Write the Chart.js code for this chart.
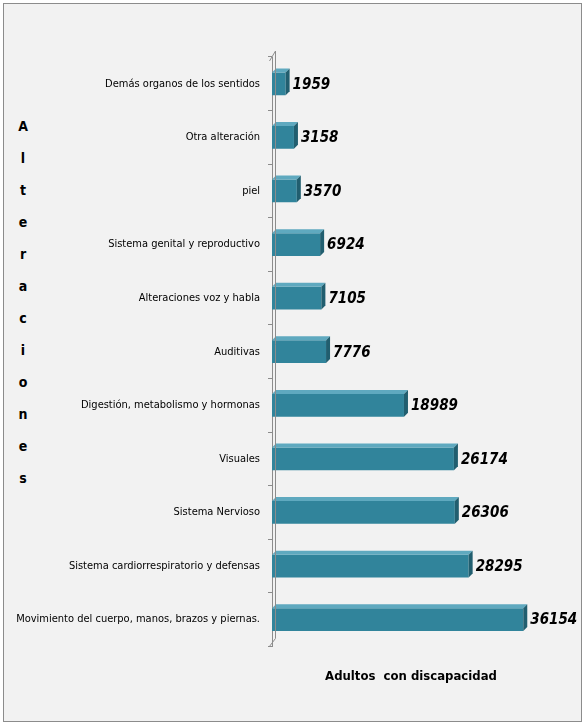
<!DOCTYPE html>
<html>
<head>
<meta charset="utf-8">
<script src="https://cdn.jsdelivr.net/npm/chart.js@4/dist/chart.umd.min.js"></script>
<style>
  html, body { margin: 0; padding: 0; background: #fff; }
  #wrap { position: relative; width: 587px; height: 727px; }
  #frame { position: absolute; left: 3px; top: 3px; width: 577px; height: 717px;
           border: 1px solid #8c8c8c; background: #f2f2f2; }
  #ytitle { position: absolute; left: 14px; top: 110px; width: 18px;
            font: bold 14px "DejaVu Sans Condensed", sans-serif;
            text-align: center; line-height: 32px; color: #000; }
  canvas { position: absolute; left: 0; top: 0; }
</style>
</head>
<body>
<div id="wrap">
  <div id="frame"></div>
  <div id="ytitle">A<br>l<br>t<br>e<br>r<br>a<br>c<br>i<br>o<br>n<br>e<br>s</div>
  <canvas id="myChart" width="587" height="727"></canvas>
</div>
<script>
const categories = [
    'Demás organos de los sentidos',
    'Otra alteración',
    'piel',
    'Sistema genital y reproductivo',
    'Alteraciones voz y habla',
    'Auditivas',
    'Digestión, metabolismo y hormonas',
    'Visuales',
    'Sistema Nervioso',
    'Sistema cardiorrespiratorio y defensas',
    'Movimiento del cuerpo, manos, brazos y piernas.'
];
const adultos = [1959, 3158, 3570, 6924, 7105, 7776, 18989, 26174, 26306, 28295, 36154];
const xTitle = 'Adultos  con discapacidad';

const FONT = '"DejaVu Sans Condensed", sans-serif';
const DEPTH = 4;

// fake 3D faces + value labels
const bars3d = {
    id: 'bars3d',
    afterDatasetsDraw(chart) {
        const ctx = chart.ctx;
        const meta = chart.getDatasetMeta(0);
        ctx.save();
        meta.data.forEach((bar, i) => {
            const top = bar.y - bar.height / 2;
            const bot = bar.y + bar.height / 2;
            ctx.fillStyle = '#5fa9bf';
            ctx.beginPath();
            ctx.moveTo(bar.base, top);
            ctx.lineTo(bar.base + DEPTH, top - DEPTH);
            ctx.lineTo(bar.x + DEPTH, top - DEPTH);
            ctx.lineTo(bar.x, top);
            ctx.closePath();
            ctx.fill();
            ctx.fillStyle = '#215e6f';
            ctx.beginPath();
            ctx.moveTo(bar.x, top);
            ctx.lineTo(bar.x + DEPTH, top - DEPTH);
            ctx.lineTo(bar.x + DEPTH, bot - DEPTH);
            ctx.lineTo(bar.x, bot);
            ctx.closePath();
            ctx.fill();
            ctx.fillStyle = '#000';
            ctx.font = 'italic bold 15px ' + FONT;
            ctx.textAlign = 'left';
            ctx.textBaseline = 'middle';
            ctx.fillText(String(adultos[i]), bar.x + DEPTH + 3, bar.y + 1);
        });
        const a = chart.chartArea;
        ctx.strokeStyle = '#8c8c8c';
        ctx.lineWidth = 1;
        ctx.beginPath();
        ctx.moveTo(a.left - 2.5, a.top + 4);
        ctx.lineTo(a.left + 3.5, a.top - 6);
        ctx.lineTo(a.left + 3.5, a.bottom - 8);
        ctx.lineTo(a.left - 2.5, a.bottom);
        ctx.stroke();
        ctx.restore();
    }
};

new Chart(document.getElementById('myChart'), {
    type: 'bar',
    data: {
        labels: categories,
        datasets: [{
            data: adultos,
            backgroundColor: '#31849b',
            borderWidth: 0,
            barPercentage: 0.85,
            categoryPercentage: 0.5
        }]
    },
    options: {
        indexAxis: 'y',
        responsive: false,
        animation: false,
        layout: { padding: { left: 10, right: 37, top: 57, bottom: 39 } },
        plugins: {
            legend: { display: false },
            tooltip: { enabled: false }
        },
        scales: {
            x: {
                min: 0,
                max: 40000,
                ticks: { display: false },
                grid: { display: false },
                border: { display: false },
                title: {
                    display: true,
                    text: xTitle,
                    color: '#000',
                    font: { family: FONT, size: 13, weight: 'bold' },
                    padding: { top: 14 }
                }
            },
            y: {
                afterFit(scale) { scale.width = 262; },
                ticks: {
                    color: '#000',
                    padding: 8,
                    font: { family: FONT, size: 11 }
                },
                grid: {
                    offset: true,
                    drawOnChartArea: false,
                    tickLength: 4,
                    color: '#8c8c8c'
                },
                border: { display: true, color: '#8c8c8c' }
            }
        }
    },
    plugins: [bars3d]
});
</script>
</body>
</html>
